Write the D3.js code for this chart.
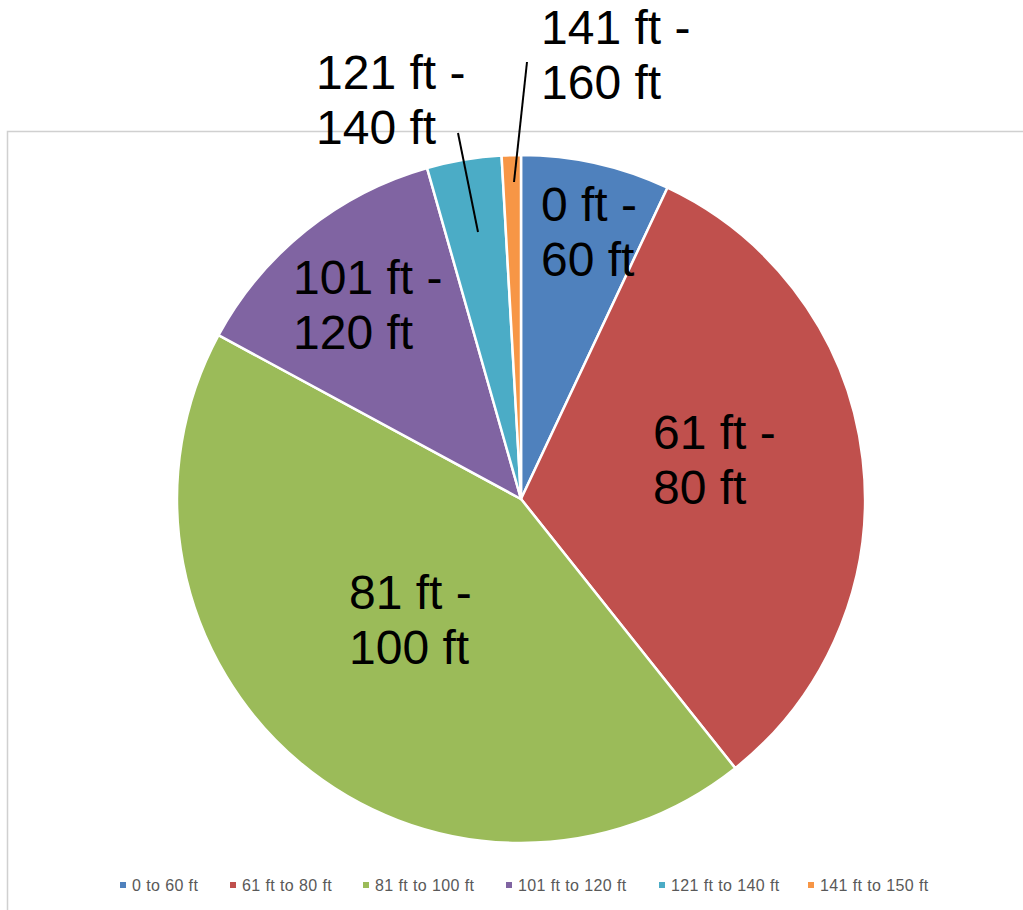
<!DOCTYPE html>
<html><head><meta charset="utf-8">
<script src="https://cdn.jsdelivr.net/npm/d3@7"></script>
<style>body{margin:0;background:#fff}svg{display:block}</style>
</head><body><svg id="c" width="1023" height="910"></svg>
<script>
const categories = ["0 to 60 ft","61 ft to 80 ft","81 ft to 100 ft","101 ft to 120 ft","121 ft to 140 ft","141 ft to 150 ft"];
const sliceLabels = [["0 ft -","60 ft"],["61 ft -","80 ft"],["81 ft -","100 ft"],["101 ft -","120 ft"],["121 ft -","140 ft"],["141 ft -","160 ft"]];
const values = [7.0, 32.3, 43.6, 12.7, 3.5, 0.9];
const colors = ["#4F81BD","#C0504D","#9BBB59","#8064A2","#4BACC6","#F79646"];

// layout (label anchor = left of first line baseline, relative to pie centre)
const cx = 521, cy = 499, R = 344;
const labelPos = [[20,-278],[132,-50],[-172,110],[-228,-205],[-205,-410],[20,-455]];
const leader = [null,null,null,null,[[-63,-366],[-43,-267]],[[6,-437],[-7,-317]]];

const svg = d3.select("#c");
svg.append("rect").attr("x",7.5).attr("y",131.5).attr("width",1030).attr("height",800)
  .attr("fill","#fff").attr("stroke","#d0d0d0").attr("stroke-width",1.5);

const pie = d3.pie().sort(null).value(d=>d)(values);
const arc = d3.arc().innerRadius(0).outerRadius(R);
const g = svg.append("g").attr("transform",`translate(${cx},${cy})`);
g.selectAll("path").data(pie).join("path")
  .attr("d",arc).attr("fill",(d,i)=>colors[i]).attr("stroke","#fff").attr("stroke-width",2.5).attr("stroke-linejoin","round");

leader.forEach(l=>{ if(!l) return;
  g.append("line").attr("x1",l[0][0]).attr("y1",l[0][1]).attr("x2",l[1][0]).attr("y2",l[1][1])
   .attr("stroke","#000").attr("stroke-width",2);
});

sliceLabels.forEach((lines,i)=>{
  const t = g.append("text").attr("x",labelPos[i][0]).attr("y",labelPos[i][1])
    .attr("font-family","Liberation Sans, Arial, sans-serif").attr("font-size",48).attr("fill","#000");
  lines.forEach((s,k)=>t.append("tspan").attr("x",labelPos[i][0]).attr("dy",k?55:0).text(s));
});

// legend
const lg = svg.append("g");
const legX = [132,242,375,518,671,820];
categories.forEach((c,i)=>{
  lg.append("rect").attr("x",legX[i]-12).attr("y",882).attr("width",6).attr("height",6).attr("fill",colors[i]);
  lg.append("text").attr("x",legX[i]).attr("y",891).attr("font-family","Liberation Sans, Arial, sans-serif")
    .attr("font-size",16).attr("letter-spacing",0.4).attr("fill","#595959").text(c);
});
</script></body></html>
